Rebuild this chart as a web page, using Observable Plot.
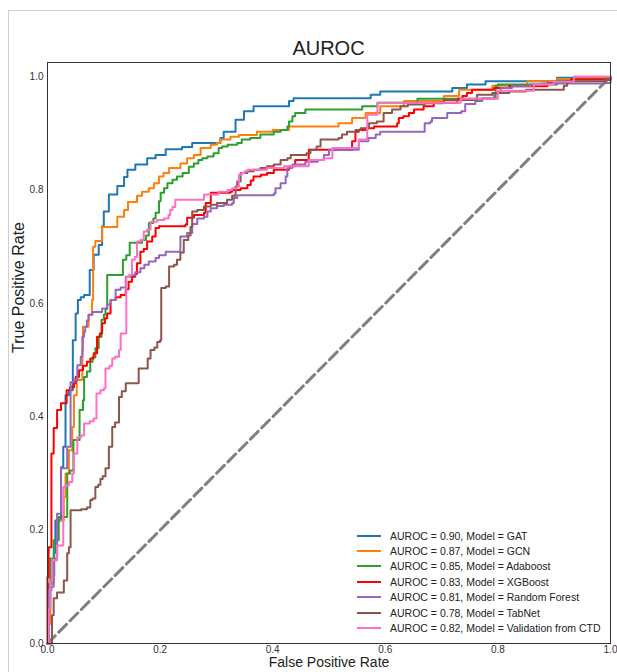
<!DOCTYPE html>
<html><head><meta charset="utf-8">
<script src="https://cdn.jsdelivr.net/npm/d3@7"></script>
<script src="https://cdn.jsdelivr.net/npm/@observablehq/plot@0.6"></script>
<style>
body{margin:0;background:#fff;font-family:"Liberation Sans",Arial,sans-serif;}
#wrap{position:relative;width:617px;height:672px;overflow:hidden;}
#border{position:absolute;left:8px;top:10px;right:-2px;bottom:-2px;border-left:1px solid #d0d0d0;border-top:1px solid #d0d0d0;}
#chart{position:absolute;left:0;top:0;}
#title{position:absolute;top:36px;left:47px;width:563px;text-align:center;font-size:20px;color:#222;line-height:24px;}
#legend{position:absolute;left:357px;top:528px;font-size:10.5px;color:#222;}
.row{display:flex;align-items:center;height:15.4px;white-space:nowrap;}
.sw{width:24px;height:2px;margin-right:9px;}
</style></head><body>
<div id="wrap"><div id="border"></div><div id="chart"></div><div id="title">AUROC</div><div id="legend"></div></div>
<script>
// [false positive rate, true positive rate] corner points of each ROC curve
const gat = [[0,0],[0.002,0.105],[0.007,0.12],[0.012,0.16],[0.014,0.217],[0.024,0.311],[0.028,0.347],[0.032,0.438],[0.038,0.447],[0.045,0.535],[0.050,0.582],[0.054,0.606],[0.059,0.611],[0.065,0.615],[0.075,0.659],[0.082,0.686],[0.091,0.703],[0.097,0.736],[0.100,0.762],[0.109,0.792],[0.124,0.807],[0.136,0.823],[0.142,0.836],[0.156,0.845],[0.177,0.856],[0.192,0.862],[0.210,0.872],[0.239,0.876],[0.257,0.883],[0.307,0.892],[0.313,0.903],[0.334,0.924],[0.349,0.939],[0.366,0.948],[0.429,0.957],[0.437,0.962],[0.574,0.968],[0.591,0.974],[0.719,0.980],[0.745,0.986],[0.778,0.992],[0.905,0.998],[1,1]];
const gcn = [[0,0],[0.002,0.035],[0.005,0.105],[0.011,0.147],[0.017,0.217],[0.029,0.258],[0.032,0.30],[0.038,0.341],[0.044,0.382],[0.047,0.438],[0.052,0.465],[0.062,0.518],[0.063,0.559],[0.073,0.58],[0.079,0.606],[0.081,0.70],[0.085,0.71],[0.097,0.735],[0.124,0.753],[0.136,0.765],[0.143,0.779],[0.159,0.790],[0.168,0.797],[0.180,0.803],[0.189,0.812],[0.198,0.824],[0.206,0.83],[0.216,0.839],[0.236,0.847],[0.248,0.856],[0.260,0.862],[0.272,0.874],[0.290,0.88],[0.301,0.883],[0.307,0.889],[0.325,0.894],[0.34,0.897],[0.372,0.903],[0.40,0.906],[0.429,0.912],[0.517,0.918],[0.541,0.927],[0.565,0.936],[0.591,0.948],[0.633,0.957],[0.704,0.966],[0.731,0.977],[0.790,0.984],[0.852,0.992],[0.905,0.996],[0.935,1.0],[1,1]];
const adaboost = [[0,0],[0.002,0.06],[0.005,0.15],[0.011,0.182],[0.020,0.223],[0.035,0.30],[0.040,0.305],[0.046,0.359],[0.057,0.412],[0.063,0.429],[0.065,0.47],[0.070,0.48],[0.076,0.497],[0.080,0.505],[0.085,0.521],[0.091,0.541],[0.096,0.571],[0.100,0.58],[0.103,0.59],[0.106,0.650],[0.134,0.677],[0.140,0.685],[0.146,0.707],[0.168,0.712],[0.175,0.72],[0.180,0.742],[0.188,0.75],[0.192,0.760],[0.198,0.780],[0.201,0.795],[0.207,0.803],[0.213,0.812],[0.222,0.818],[0.230,0.824],[0.240,0.83],[0.251,0.841],[0.26,0.847],[0.268,0.853],[0.275,0.856],[0.284,0.859],[0.295,0.865],[0.304,0.874],[0.31,0.877],[0.32,0.88],[0.337,0.883],[0.345,0.889],[0.36,0.892],[0.378,0.898],[0.402,0.903],[0.414,0.906],[0.426,0.912],[0.429,0.921],[0.435,0.930],[0.44,0.936],[0.458,0.942],[0.559,0.948],[0.586,0.954],[0.657,0.961],[0.796,0.984],[0.8,0.986],[0.905,0.993],[0.93,0.996],[1,1]];
const xgboost = [[0,0],[0,0.117],[0.002,0.17],[0.007,0.335],[0.011,0.380],[0.017,0.412],[0.024,0.424],[0.034,0.447],[0.040,0.452],[0.047,0.459],[0.050,0.470],[0.056,0.482],[0.063,0.49],[0.070,0.497],[0.076,0.503],[0.082,0.512],[0.088,0.541],[0.093,0.547],[0.097,0.565],[0.102,0.574],[0.106,0.582],[0.112,0.606],[0.121,0.611],[0.130,0.615],[0.139,0.625],[0.144,0.638],[0.150,0.647],[0.156,0.652],[0.159,0.671],[0.165,0.691],[0.171,0.696],[0.177,0.709],[0.186,0.718],[0.192,0.733],[0.198,0.736],[0.245,0.739],[0.248,0.751],[0.260,0.756],[0.278,0.760],[0.281,0.777],[0.290,0.795],[0.325,0.797],[0.328,0.800],[0.343,0.803],[0.355,0.809],[0.361,0.817],[0.366,0.824],[0.379,0.827],[0.390,0.830],[0.402,0.836],[0.429,0.842],[0.44,0.853],[0.464,0.871],[0.541,0.886],[0.547,0.903],[0.553,0.906],[0.565,0.909],[0.58,0.912],[0.621,0.918],[0.624,0.927],[0.632,0.93],[0.642,0.936],[0.651,0.942],[0.668,0.948],[0.686,0.954],[0.728,0.961],[0.737,0.966],[0.745,0.971],[0.754,0.977],[0.793,0.98],[0.82,0.983],[0.888,0.989],[0.93,0.995],[1,1]];
const randomForest = [[0,0],[0.002,0.094],[0.007,0.10],[0.011,0.15],[0.017,0.229],[0.024,0.309],[0.035,0.347],[0.041,0.461],[0.047,0.465],[0.053,0.491],[0.059,0.506],[0.062,0.541],[0.065,0.55],[0.067,0.559],[0.070,0.57],[0.073,0.58],[0.080,0.585],[0.097,0.591],[0.106,0.598],[0.112,0.606],[0.121,0.624],[0.130,0.628],[0.139,0.647],[0.148,0.650],[0.156,0.655],[0.165,0.662],[0.172,0.668],[0.180,0.674],[0.192,0.68],[0.198,0.685],[0.210,0.691],[0.236,0.718],[0.248,0.724],[0.257,0.74],[0.266,0.750],[0.278,0.753],[0.284,0.762],[0.29,0.768],[0.301,0.772],[0.313,0.774],[0.328,0.777],[0.331,0.786],[0.337,0.791],[0.402,0.794],[0.405,0.803],[0.414,0.812],[0.423,0.824],[0.426,0.839],[0.435,0.845],[0.458,0.850],[0.48,0.853],[0.491,0.862],[0.500,0.871],[0.553,0.886],[0.57,0.892],[0.583,0.898],[0.591,0.903],[0.670,0.918],[0.68,0.921],[0.683,0.927],[0.710,0.936],[0.735,0.939],[0.742,0.952],[0.76,0.957],[0.772,0.962],[0.793,0.971],[0.805,0.980],[0.825,0.983],[0.858,0.986],[0.878,0.988],[0.99,0.989],[1,1]];
const tabnet = [[0,0],[0.008,0.05],[0.011,0.08],[0.017,0.09],[0.029,0.111],[0.035,0.159],[0.038,0.17],[0.041,0.235],[0.06,0.237],[0.070,0.24],[0.076,0.253],[0.08,0.256],[0.085,0.276],[0.09,0.28],[0.094,0.29],[0.098,0.295],[0.103,0.309],[0.109,0.347],[0.115,0.382],[0.12,0.39],[0.127,0.435],[0.132,0.445],[0.139,0.459],[0.162,0.485],[0.178,0.503],[0.183,0.518],[0.19,0.522],[0.195,0.532],[0.2,0.535],[0.202,0.627],[0.210,0.63],[0.216,0.665],[0.225,0.668],[0.230,0.677],[0.236,0.69],[0.242,0.712],[0.25,0.72],[0.254,0.735],[0.257,0.762],[0.266,0.765],[0.278,0.771],[0.29,0.774],[0.301,0.777],[0.319,0.783],[0.328,0.79],[0.334,0.806],[0.337,0.815],[0.343,0.830],[0.355,0.833],[0.366,0.836],[0.378,0.839],[0.39,0.842],[0.402,0.845],[0.414,0.853],[0.426,0.856],[0.432,0.862],[0.46,0.865],[0.467,0.871],[0.478,0.877],[0.485,0.889],[0.517,0.892],[0.523,0.898],[0.532,0.903],[0.547,0.906],[0.556,0.909],[0.571,0.918],[0.585,0.921],[0.597,0.936],[0.612,0.942],[0.627,0.948],[0.64,0.951],[0.67,0.953],[0.704,0.959],[0.763,0.968],[0.79,0.971],[0.82,0.974],[0.85,0.977],[0.917,0.984],[0.923,0.992],[0.99,0.994],[1,1]];
const validationCTD = [[0,0],[0.002,0.06],[0.005,0.111],[0.008,0.147],[0.017,0.173],[0.028,0.276],[0.032,0.279],[0.038,0.285],[0.044,0.300],[0.047,0.335],[0.053,0.364],[0.06,0.367],[0.065,0.388],[0.075,0.392],[0.082,0.397],[0.087,0.441],[0.094,0.447],[0.1,0.45],[0.103,0.485],[0.11,0.49],[0.115,0.503],[0.12,0.506],[0.127,0.518],[0.130,0.547],[0.140,0.647],[0.145,0.65],[0.150,0.677],[0.155,0.682],[0.159,0.709],[0.165,0.712],[0.171,0.727],[0.177,0.73],[0.183,0.744],[0.195,0.747],[0.207,0.750],[0.215,0.756],[0.218,0.765],[0.222,0.77],[0.227,0.783],[0.278,0.792],[0.304,0.797],[0.32,0.8],[0.328,0.803],[0.337,0.806],[0.340,0.827],[0.345,0.83],[0.35,0.833],[0.355,0.836],[0.39,0.839],[0.42,0.842],[0.464,0.853],[0.49,0.856],[0.506,0.874],[0.553,0.889],[0.568,0.933],[0.586,0.954],[0.734,0.961],[0.80,0.975],[0.864,0.986],[0.899,0.991],[0.935,1.0],[1,1]];
const chanceLine = [[0,0],[1,1]];

const modelNames = ["GAT","GCN","Adaboost","XGBoost","Random Forest","TabNet","Validation from CTD"];
const aucValues = ["0.90","0.87","0.85","0.83","0.81","0.78","0.82"];
const curves = [gat, gcn, adaboost, xgboost, randomForest, tabnet, validationCTD];
const colors = ["#1f77b4","#ff7f0e","#2ca02c","#ff0000","#9467bd","#8c564b","#ff6fc8"];
const tickValues = [0,0.2,0.4,0.6,0.8,1.0];

const fmt = d3.format(".1f");
const chart = Plot.plot({
  width: 617, height: 672,
  marginLeft: 47, marginRight: 7, marginTop: 62, marginBottom: 29,
  style: {fontFamily: "'Liberation Sans', Arial, sans-serif", fontSize: "10px", color: "#333", background: "transparent"},
  x: {domain: [0, 1]},
  y: {domain: [0, 1.025]},
  marks: [
    Plot.axisX({ticks: tickValues, tickFormat: fmt, tickSize: 0, tickPadding: 2, label: null, fontSize: 10}),
    Plot.axisY({ticks: tickValues, tickFormat: fmt, tickSize: 0, tickPadding: 4, label: null, fontSize: 10}),
    Plot.line(chanceLine, {x: d => d[0], y: d => d[1], stroke: "#808080", strokeWidth: 3, strokeDasharray: "11,5"}),
    ...curves.map((c, i) => Plot.line(c, {x: d => d[0], y: d => d[1], stroke: colors[i], strokeWidth: 2, curve: "step-after"})),
    Plot.frame({stroke: "#333", strokeWidth: 1}),
    Plot.text(["False Positive Rate"], {text: d => d, frameAnchor: "bottom", dy: 23, fontSize: 14, fill: "#222"}),
    Plot.text(["True Positive Rate"], {text: d => d, frameAnchor: "left", dx: -29, rotate: -90, fontSize: 16, fill: "#222"})
  ]
});
document.getElementById("chart").appendChild(chart);

const legend = d3.select("#legend");
modelNames.forEach((name, i) => {
  const row = legend.append("div").attr("class", "row");
  row.append("div").attr("class", "sw").style("background", colors[i]);
  row.append("span").text(`AUROC = ${aucValues[i]}, Model = ${name}`);
});
</script>
</body></html>
